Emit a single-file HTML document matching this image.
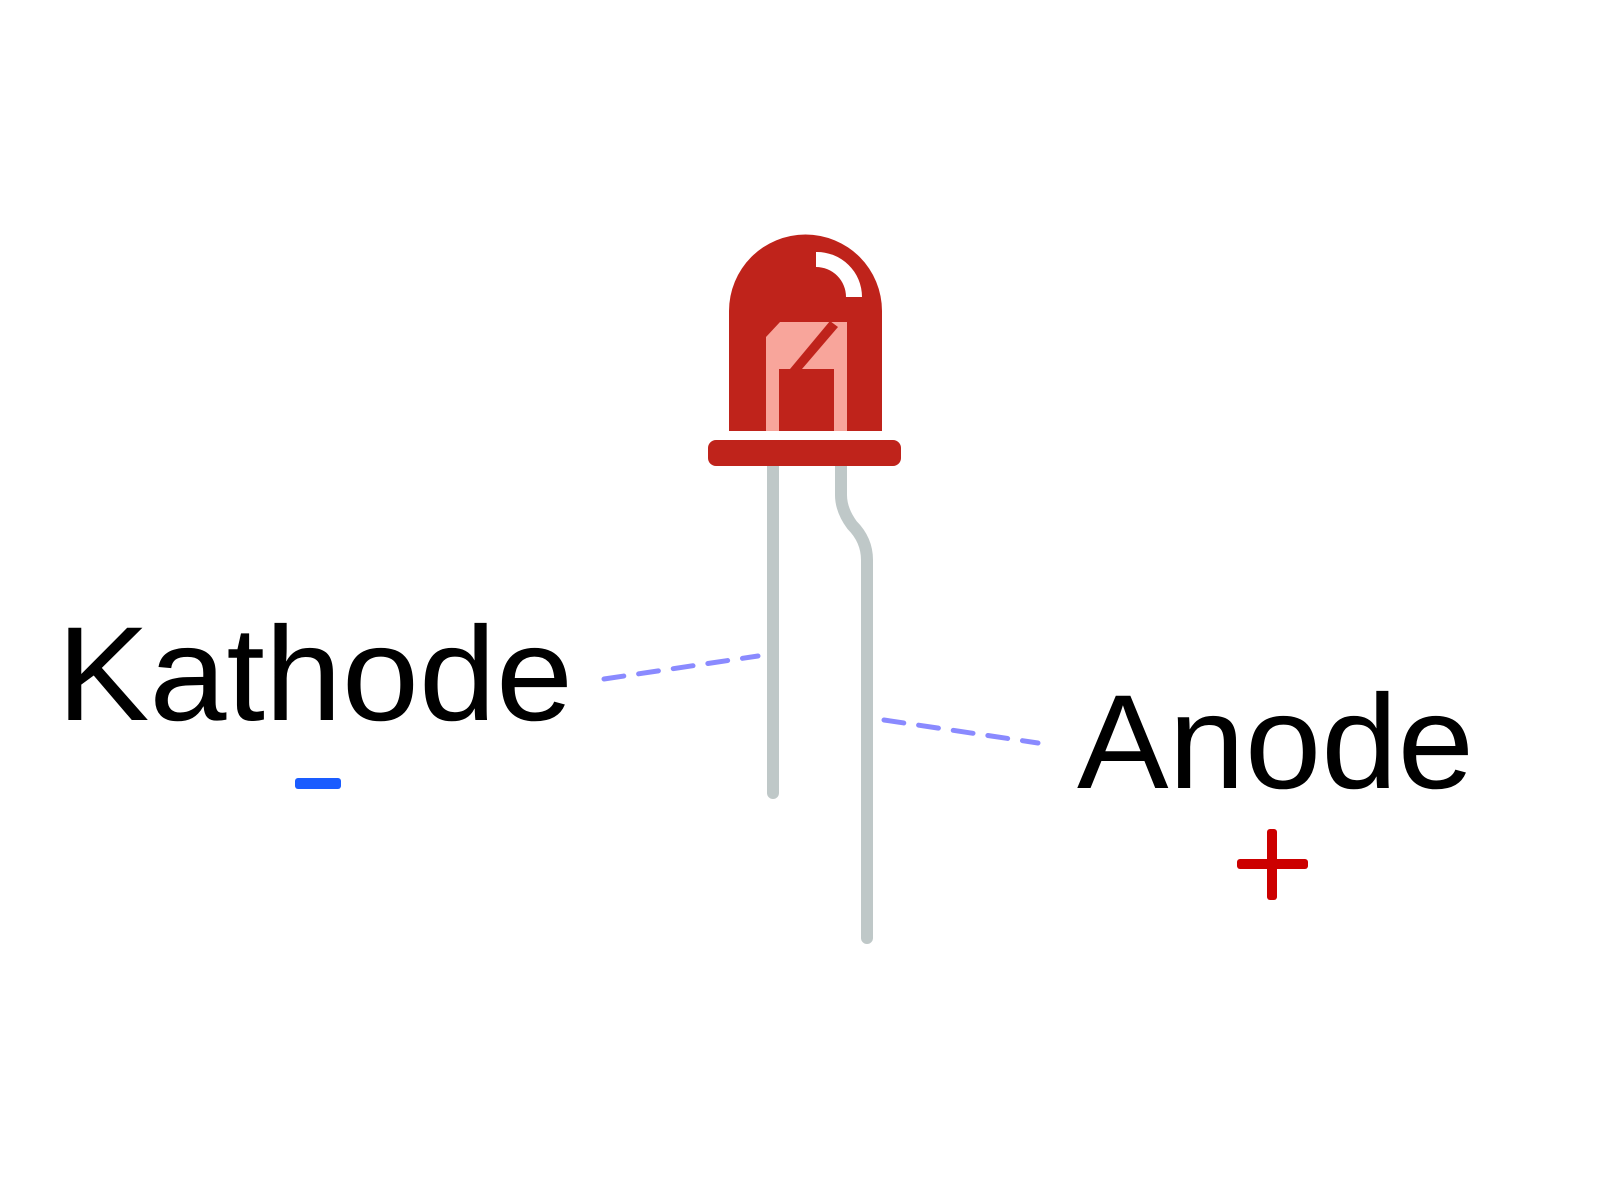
<!DOCTYPE html>
<html><head><style>html,body{margin:0;padding:0;background:#fff}svg{display:block}</style></head>
<body>
<svg width="1600" height="1200" viewBox="0 0 1600 1200" xmlns="http://www.w3.org/2000/svg">
<rect width="1600" height="1200" fill="#fff"/>
<path d="M773 460 V793" stroke="#bfc8c8" stroke-width="12" stroke-linecap="round" fill="none"/>
<path d="M841 460 V495 Q841 510 852 525 Q867 540 867 560 V938" stroke="#bfc8c8" stroke-width="12" stroke-linecap="round" fill="none"/>
<path d="M729 431 V311 A76.5 76.5 0 0 1 882 311 V431 Z" fill="#bf231b"/>
<path d="M816 252 A45 45 0 0 1 862 297 H846 A30 30 0 0 0 816 267 Z" fill="#fff"/>
<path d="M766 431 V337 L780 322 H847 V431 H834 V369 H779 V431 Z" fill="#f8a59b"/>
<path d="M790 369 L830 321 L838 327 L802 369 Z" fill="#bf231b"/>
<rect x="708" y="440" width="193" height="26" rx="8" fill="#bf231b"/>
<line x1="604" y1="679" x2="758" y2="656" stroke="#8a8aff" stroke-width="5" stroke-linecap="round" stroke-dasharray="20,15"/>
<line x1="884" y1="720" x2="1038" y2="743" stroke="#8a8aff" stroke-width="5" stroke-linecap="round" stroke-dasharray="20,15"/>
<text x="57" y="720" font-family="Liberation Sans, sans-serif" font-size="134" textLength="516" lengthAdjust="spacingAndGlyphs" fill="#000">Kathode</text>
<text x="1077" y="788" font-family="Liberation Sans, sans-serif" font-size="134" textLength="397" lengthAdjust="spacingAndGlyphs" fill="#000">Anode</text>
<rect x="295" y="778" width="46" height="11" rx="3" fill="#1a5cff"/>
<rect x="1237" y="859" width="71" height="10" rx="3" fill="#cc0000"/>
<rect x="1267" y="829" width="10" height="71" rx="3" fill="#cc0000"/>
</svg>
</body></html>
